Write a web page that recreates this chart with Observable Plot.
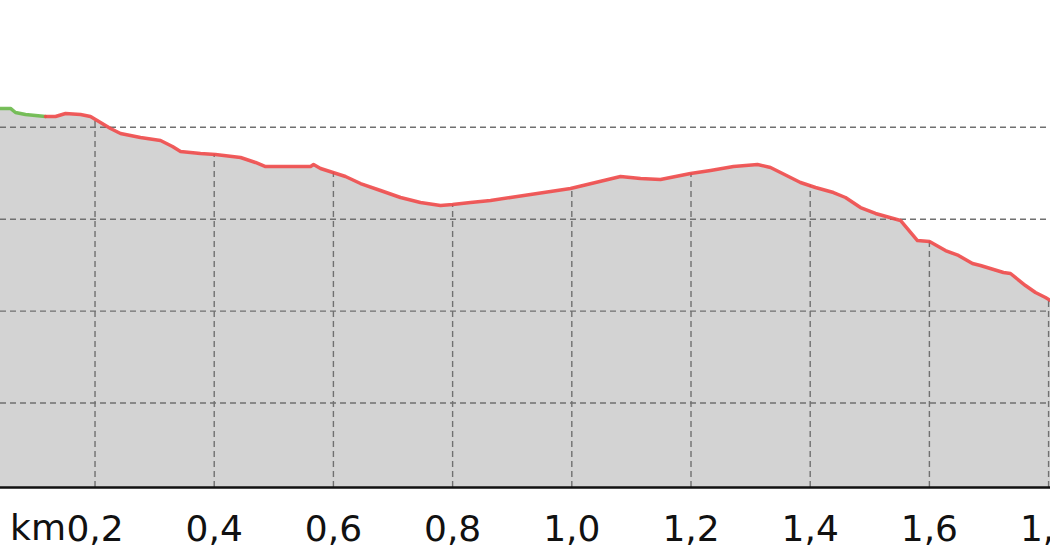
<!DOCTYPE html>
<html>
<head>
<meta charset="utf-8">
<script src="https://cdn.jsdelivr.net/npm/d3@7"></script>
<script src="https://cdn.jsdelivr.net/npm/@observablehq/plot@0.6"></script>
<style>
  html, body { margin: 0; padding: 0; background: #fff; overflow: hidden; }
  #chart svg { display: block; }
</style>
</head>
<body>
<div id="chart"></div>
<script>
// Distance along the route (km)
const km = [0.0414, 0.0582, 0.0666, 0.0834, 0.1002, 0.1169,
  0.1337, 0.1505, 0.1757, 0.1924, 0.2092, 0.2260, 0.2428, 0.2763, 0.3099, 0.3300,
  0.3435, 0.3770, 0.4022, 0.4442, 0.4693, 0.4861, 0.5281, 0.5616, 0.5667, 0.5784,
  0.6203, 0.6455, 0.6790, 0.7126, 0.7461, 0.7797, 0.7998, 0.8300, 0.8636, 0.8971,
  0.9307, 0.9643, 0.9978, 1.0398, 1.0817, 1.1153, 1.1488, 1.1992, 1.2327, 1.2713,
  1.3116, 1.3334, 1.3502, 1.3837, 1.4089, 1.4391, 1.4592, 1.4844, 1.5096, 1.5515,
  1.5800, 1.6002, 1.6270, 1.6488, 1.6723, 1.6857, 1.7243, 1.7361, 1.7612, 1.7780,
  1.7948, 1.8032];
// Elevation (m)
const elevation = [132.05, 132.05, 131.61, 131.39, 131.28, 131.18,
  131.18, 131.50, 131.39, 131.18, 130.52, 129.87, 129.33, 128.89, 128.56, 127.91,
  127.37, 127.15, 127.04, 126.71, 126.17, 125.73, 125.73, 125.73, 125.95, 125.52,
  124.65, 123.88, 123.12, 122.36, 121.82, 121.49, 121.60, 121.82, 122.03, 122.36,
  122.69, 123.01, 123.34, 123.99, 124.65, 124.43, 124.32, 124.97, 125.30, 125.73,
  125.95, 125.63, 125.08, 123.99, 123.45, 122.90, 122.36, 121.27, 120.62, 119.86,
  117.68, 117.57, 116.59, 116.05, 115.18, 114.96, 114.20, 114.09, 112.78, 112.02,
  111.48, 111.15];
// Number of leading points drawn in green
const greenCount = 6;
const xTicks = [0.2, 0.4, 0.6, 0.8, 1.0, 1.2, 1.4, 1.6, 1.8];
const yTicks = [100, 110, 120, 130];
const xUnit = "km";

const data = km.map((k, i) => ({km: k, elev: elevation[i]}));
const greenPart = data.slice(0, greenCount);
const redPart = data.slice(greenCount - 1);

const interp = (x) => {
  const i = d3.bisector(d => d.km).left(data, x);
  if (i <= 0) return data[0].elev;
  if (i >= data.length) return data[data.length - 1].elev;
  const a = data[i - 1], b = data[i];
  const t = (x - a.km) / (b.km - a.km);
  return a.elev + t * (b.elev - a.elev);
};

const yMin = 90.8, yMax = 143.8;
const fmt = d => d.toFixed(1).replace(".", ",");

const chart = Plot.plot({
  width: 1050,
  height: 560,
  marginLeft: 0,
  marginRight: 0,
  marginTop: 0,
  marginBottom: 73,
  style: {fontFamily: "DejaVu Sans", fontSize: "36px", color: "#111", overflow: "visible"},
  x: {domain: [km[0], km[km.length - 1]], axis: null},
  y: {domain: [yMin, yMax], axis: null},
  marks: [
    Plot.areaY(data, {x: "km", y1: yMin, y2: "elev", fill: "#d3d3d3", curve: "linear"}),
    Plot.ruleY(yTicks, {stroke: "#707070", strokeWidth: 1.4, strokeDasharray: "6,4"}),
    Plot.ruleX(xTicks, {x: d => d, y1: yMin, y2: d => interp(d), stroke: "#707070", strokeWidth: 1.4, strokeDasharray: "6,4"}),
    Plot.line(greenPart, {x: "km", y: "elev", stroke: "#6ab94a", strokeWidth: 3.5, strokeOpacity: 0.9}),
    Plot.line(redPart, {x: "km", y: "elev", stroke: "#ef4a4a", strokeWidth: 3.5, strokeOpacity: 0.9}),
    Plot.ruleY([yMin], {stroke: "#111", strokeWidth: 2.5}),
    Plot.axisX(xTicks, {tickSize: 0, tickPadding: 28, tickFormat: fmt, fontSize: 36, fill: "#111", label: null}),
    Plot.text([xUnit], {x: xTicks[0], y: yMin, text: d => d, textAnchor: "end", dx: -29, dy: 41, fontSize: 36, fill: "#111"})
  ]
});
document.getElementById("chart").appendChild(chart);
</script>
</body>
</html>
